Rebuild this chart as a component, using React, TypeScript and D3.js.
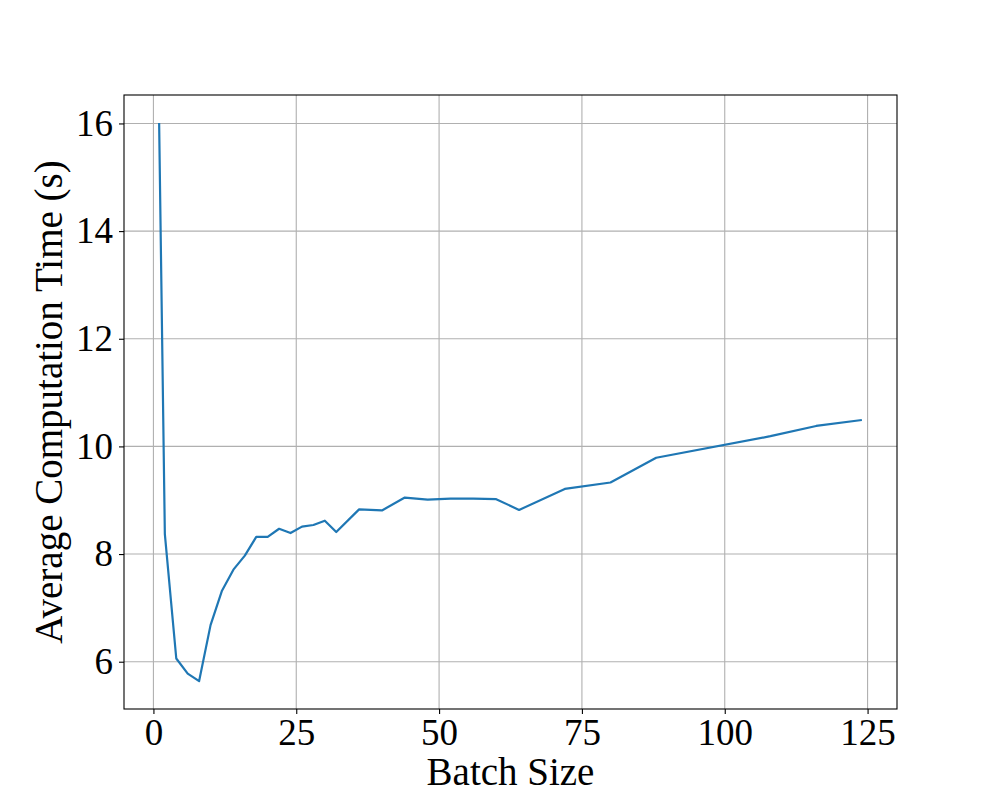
import { useEffect, useRef } from "react";
import * as d3 from "d3";

const batchSizes = [1, 2, 4, 6, 8, 10, 12, 14, 16, 18, 20, 22, 24, 26, 28, 30, 32, 36, 40, 44, 48, 52, 56, 60, 64, 72, 80, 88, 108, 116, 124];
const avgTimes = [16.01, 8.37, 6.06, 5.78, 5.64, 6.68, 7.32, 7.71, 7.97, 8.32, 8.32, 8.47, 8.39, 8.51, 8.54, 8.62, 8.41, 8.83, 8.81, 9.05, 9.01, 9.03, 9.03, 9.02, 8.82, 9.21, 9.33, 9.79, 10.19, 10.38, 10.49];
const xTicks = [0, 25, 50, 75, 100, 125];
const yTicks = [6, 8, 10, 12, 14, 16];

export default function App() {
  const ref = useRef<SVGSVGElement>(null);

  useEffect(() => {
    const width = 997;
    const height = 797;
    const m = { top: 95, right: 100, bottom: 88, left: 124 };

    const svg = d3.select(ref.current);
    svg.selectAll("*").remove();

    // matplotlib-style 5% margins around the data
    const xMin = d3.min(batchSizes)!, xMax = d3.max(batchSizes)!;
    const yMin = d3.min(avgTimes)!, yMax = d3.max(avgTimes)!;
    const xPad = (xMax - xMin) * 0.05;
    const yPad = (yMax - yMin) * 0.05;

    const x = d3.scaleLinear()
      .domain([xMin - xPad, xMax + xPad])
      .range([m.left, width - m.right]);
    const y = d3.scaleLinear()
      .domain([yMin - yPad, yMax + yPad])
      .range([height - m.bottom, m.top]);

    const font = "'Liberation Serif', 'Times New Roman', serif";

    svg.append("rect")
      .attr("width", width).attr("height", height).attr("fill", "#fff");

    // grid
    svg.append("g").selectAll("line").data(xTicks).join("line")
      .attr("x1", d => x(d)).attr("x2", d => x(d))
      .attr("y1", m.top).attr("y2", height - m.bottom)
      .attr("stroke", "#b0b0b0").attr("stroke-width", 1.1);
    svg.append("g").selectAll("line").data(yTicks).join("line")
      .attr("x1", m.left).attr("x2", width - m.right)
      .attr("y1", d => y(d)).attr("y2", d => y(d))
      .attr("stroke", "#b0b0b0").attr("stroke-width", 1.1);

    const line = d3.line<number>()
      .x((d, i) => x(batchSizes[i]))
      .y(d => y(d));

    svg.append("path")
      .datum(avgTimes)
      .attr("fill", "none")
      .attr("stroke", "#1f77b4")
      .attr("stroke-width", 2.2)
      .attr("stroke-linejoin", "round")
      .attr("d", line);

    // axes
    const xAxis = d3.axisBottom(x).tickValues(xTicks).tickSize(5).tickPadding(5).tickFormat(d3.format("d"));
    const yAxis = d3.axisLeft(y).tickValues(yTicks).tickSize(5).tickPadding(6).tickFormat(d3.format("d"));

    const gx = svg.append("g")
      .attr("transform", `translate(0,${height - m.bottom})`)
      .call(xAxis);
    const gy = svg.append("g")
      .attr("transform", `translate(${m.left},0)`)
      .call(yAxis);

    [gx, gy].forEach(g => {
      g.select(".domain").remove();
      g.selectAll("line").attr("stroke", "#000").attr("stroke-width", 1.1);
      g.selectAll("text")
        .attr("fill", "#000")
        .style("font-family", font)
        .style("font-size", "37px");
    });

    svg.append("rect")
      .attr("x", m.left).attr("y", m.top)
      .attr("width", width - m.right - m.left)
      .attr("height", height - m.bottom - m.top)
      .attr("fill", "none").attr("stroke", "#000").attr("stroke-width", 1.1);

    svg.append("text")
      .attr("x", (m.left + width - m.right) / 2)
      .attr("y", 785)
      .attr("text-anchor", "middle")
      .style("font-family", font)
      .style("font-size", "39px")
      .text("Batch Size");

    svg.append("text")
      .attr("transform", `translate(62,${(m.top + height - m.bottom) / 2}) rotate(-90)`)
      .attr("text-anchor", "middle")
      .style("font-family", font)
      .style("font-size", "39px")
      .text("Average Computation Time (s)");
  }, []);

  return (
    <div style={{ position: "absolute", left: 0, top: 0 }}>
      <svg ref={ref} width={997} height={797} style={{ display: "block" }}></svg>
    </div>
  );
}
